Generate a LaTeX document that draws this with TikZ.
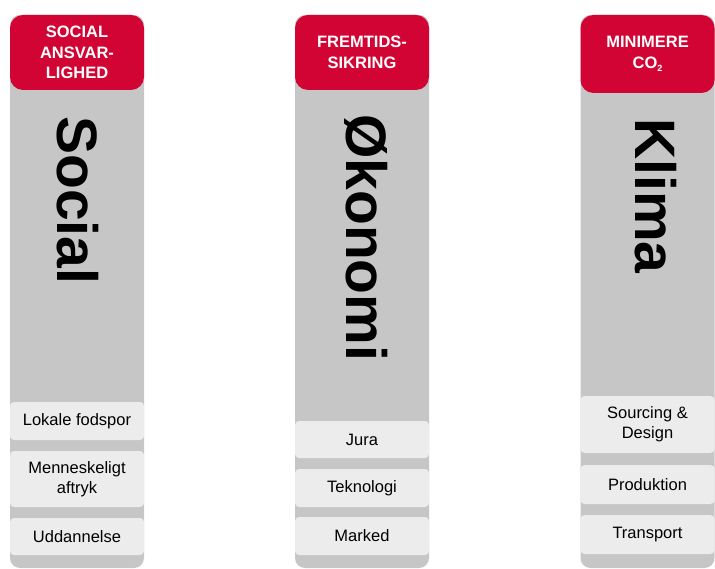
\documentclass[tikz,border=0pt]{standalone}
\usepackage{fontspec}
\setmainfont{Liberation Sans}
\definecolor{hdred}{HTML}{D20433}
\definecolor{colgray}{HTML}{C6C6C6}
\definecolor{boxgray}{HTML}{ECECEC}
\begin{document}
\begin{tikzpicture}[x=1pt,y=1pt,
  column/.style={fill=colgray,rounded corners=10pt,minimum width=134pt,minimum height=553pt,inner sep=0pt},
  header/.style={fill=hdred,rounded corners=13pt,minimum width=134pt,inner sep=0pt,text=white,align=center,font=\fontsize{16.5}{20.5}\selectfont\bfseries},
  item/.style={fill=boxgray,rounded corners=4pt,minimum width=134pt,inner sep=0pt,align=center,font=\fontsize{16.5}{20}\selectfont},
  bigword/.style={rotate=-90,anchor=base west,inner sep=0pt,font=\fontsize{57}{57}\selectfont\bfseries}]
\useasboundingbox (0,0) rectangle (715,-569);
% columns
\node[column] (c1) at (77,-291.5) {};
\node[column] (c2) at (362,-291.5) {};
\node[column] (c3) at (647.5,-291.5) {};
% headers
\node[header,minimum height=75pt] (h1) at (77,-52.5) {SOCIAL\\ANSVAR-\\LIGHED};
\node[header,minimum height=75pt] (h2) at (362,-52.5) {FREMTIDS-\\SIKRING};
\node[header,minimum height=78pt] (h3) at (647.5,-54) {MINIMERE\\CO\raisebox{-0.35ex}{\fontsize{9}{9}\selectfont 2}};
% big words
\node[bigword] (w1) at (57,-116) {Social};
\node[bigword] (w2) at (346,-114) {Økonomi};
\node[bigword] (w3) at (635,-118) {Klima};
% items column 1
\node[item,minimum height=38pt] (a1) at (77,-421) {Lokale fodspor};
\node[item,minimum height=56pt] (a2) at (77,-479) {Menneskeligt\\aftryk};
\node[item,minimum height=37pt] (a3) at (77,-536.5) {Uddannelse};
% items column 2
\node[item,minimum height=37pt] (b1) at (362,-439.5) {Jura};
\node[item,minimum height=38pt] (b2) at (362,-488) {Teknologi};
\node[item,minimum height=38pt] (b3) at (362,-536) {Marked};
% items column 3
\node[item,minimum height=57pt] (d1) at (647.5,-424.5) {Sourcing \&\\Design};
\node[item,minimum height=39pt] (d2) at (647.5,-484.5) {Produktion};
\node[item,minimum height=39pt] (d3) at (647.5,-534.5) {Transport};
\end{tikzpicture}
\end{document}
